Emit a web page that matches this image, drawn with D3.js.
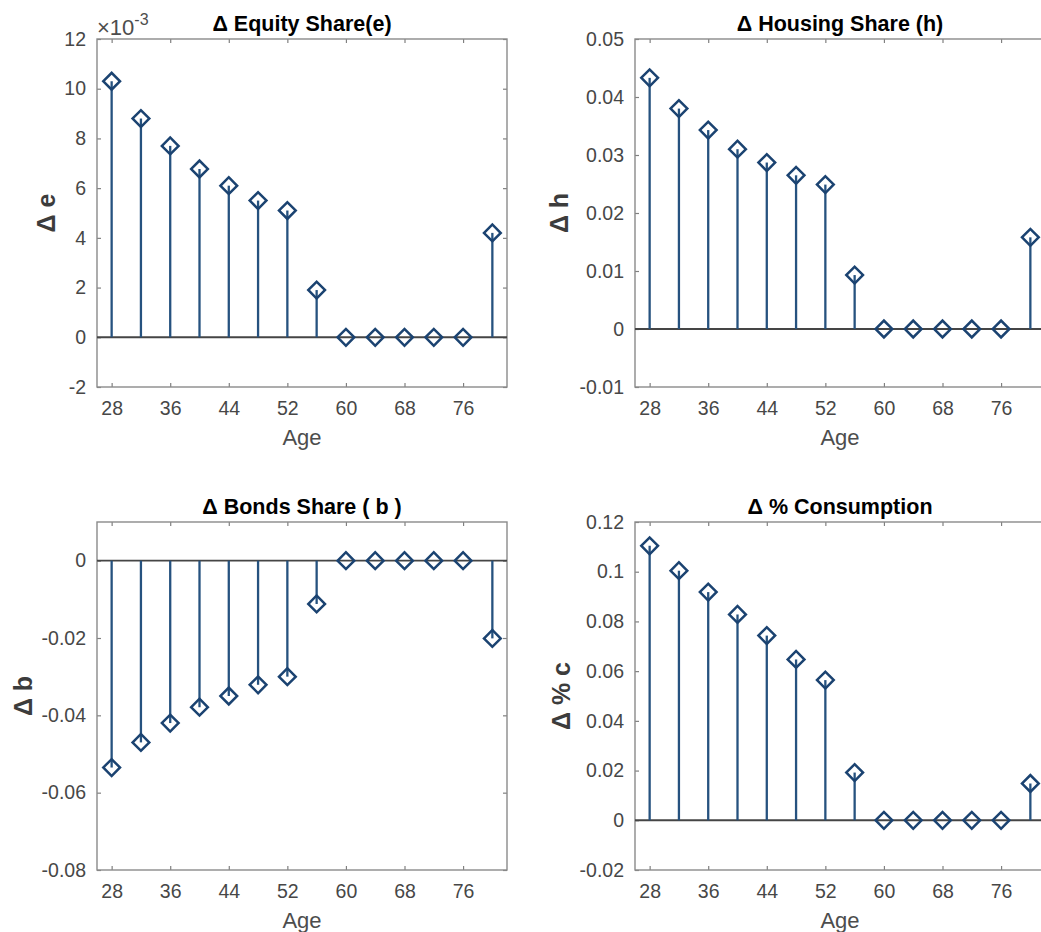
<!DOCTYPE html>
<html lang="en">
<head>
    <meta charset="UTF-8">
    <title>Stem plots by age</title>
    <script src="https://d3js.org/d3.v7.min.js"></script>
    <style>
        body { margin: 0; background: #fff; }
        svg { display: block; font-family: "Liberation Sans", Arial, sans-serif; }
        .tick text { fill: #474747; font-size: 19.5px; }
        .tick line { stroke: #808080; stroke-width: 1.2; }
        .frame { fill: none; stroke: #8a8a8a; stroke-width: 1.4; }
        .zero { stroke: #454545; stroke-width: 1.9; }
        .stem { stroke: #26527f; stroke-width: 2.3; }
        .mark { fill: none; stroke: #1b4371; stroke-width: 2.5; }
        .title { font-size: 21.5px; font-weight: bold; fill: #000; }
        .xlabel { font-size: 22px; fill: #4d4d4d; }
        .ylabel { font-size: 25px; font-weight: bold; fill: #3c3c3c; }
        .expo { fill: #4d4d4d; font-size: 22px; }
        .expo .sup { font-size: 16px; }
    </style>
</head>
<body>
    <svg id="chart" width="1041" height="932"></svg>

    <script>
        // data
        const ages = [28, 32, 36, 40, 44, 48, 52, 56, 60, 64, 68, 72, 76, 80];
        const equityShare = [0.0103, 0.0088, 0.0077, 0.00677, 0.0061, 0.0055, 0.0051, 0.0019, 0, 0, 0, 0, 0, 0.0042];
        const housingShare = [0.0433, 0.0380, 0.0343, 0.0310, 0.0287, 0.0265, 0.0249, 0.0093, 0, 0, 0, 0, 0, 0.0158];
        const bondsShare = [-0.0535, -0.0470, -0.0420, -0.0379, -0.0350, -0.0321, -0.0300, -0.0112, 0, 0, 0, 0, 0, -0.0201];
        const consumption = [0.1104, 0.1004, 0.0918, 0.0828, 0.0743, 0.0647, 0.0564, 0.0192, 0, 0, 0, 0, 0, 0.0148];

        const ageTicks = [28, 36, 44, 52, 60, 68, 76];
        const equityTicks = [-0.002, 0, 0.002, 0.004, 0.006, 0.008, 0.010, 0.012];
        const housingTicks = [-0.01, 0, 0.01, 0.02, 0.03, 0.04, 0.05];
        const bondsTicks = [-0.08, -0.06, -0.04, -0.02, 0];
        const consumptionTicks = [-0.02, 0, 0.02, 0.04, 0.06, 0.08, 0.1, 0.12];

        const panels = [
            {title: "Δ Equity Share(e)", ylab: "Δ e", values: equityShare, ticks: equityTicks,
             domain: [-0.002, 0.012], left: 97, top: 39, ylabOff: 42, scaleExp: true},
            {title: "Δ Housing Share (h)", ylab: "Δ h", values: housingShare, ticks: housingTicks,
             domain: [-0.01, 0.05], left: 635, top: 39, ylabOff: 67},
            {title: "Δ Bonds Share ( b )", ylab: "Δ b", values: bondsShare, ticks: bondsTicks,
             domain: [-0.08, 0.01], left: 97, top: 522, ylabOff: 65},
            {title: "Δ % Consumption", ylab: "Δ % c", values: consumption, ticks: consumptionTicks,
             domain: [-0.02, 0.12], left: 635, top: 522, ylabOff: 65}
        ];

        const width = 410, height = 348;
        const svg = d3.select("#chart");

        const x = d3.scaleLinear().domain([26, 82]).range([0, width]);

        panels.forEach(p => {
            const y = d3.scaleLinear().domain(p.domain).range([height, 0]);
            const fmt = p.scaleExp ? (d => String(Math.round(d * 1000))) : (d => String(+d.toFixed(4)));

            const g = svg.append("g")
                .attr("transform", `translate(${p.left},${p.top})`);

            // axes, ticks pointing inward like matlab
            g.append("g")
                .attr("transform", `translate(0,${height})`)
                .call(d3.axisBottom(x).tickValues(ageTicks).tickSize(-4).tickPadding(14))
                .call(a => a.select(".domain").remove());
            g.append("g")
                .call(d3.axisTop(x).tickValues(ageTicks).tickSize(-4).tickFormat(""))
                .call(a => a.select(".domain").remove());
            g.append("g")
                .call(d3.axisLeft(y).tickValues(p.ticks).tickSize(-4).tickPadding(11).tickFormat(fmt))
                .call(a => a.select(".domain").remove());
            g.append("g")
                .attr("transform", `translate(${width},0)`)
                .call(d3.axisRight(y).tickValues(p.ticks).tickSize(-4).tickFormat(""))
                .call(a => a.select(".domain").remove());

            g.append("rect")
                .attr("class", "frame")
                .attr("width", width)
                .attr("height", height);

            g.append("line")
                .attr("class", "zero")
                .attr("x1", 0).attr("x2", width)
                .attr("y1", y(0)).attr("y2", y(0));

            const pts = ages.map((a, i) => ({age: a, v: p.values[i]}));

            g.selectAll(".stem")
                .data(pts)
                .enter().append("line")
                .attr("class", "stem")
                .attr("x1", d => x(d.age)).attr("x2", d => x(d.age))
                .attr("y1", y(0)).attr("y2", d => y(d.v));

            g.selectAll(".mark")
                .data(pts)
                .enter().append("path")
                .attr("class", "mark")
                .attr("d", d3.symbol(d3.symbolSquare, 140))
                .attr("transform", d => `translate(${x(d.age)},${y(d.v)}) rotate(45)`);

            g.append("text")
                .attr("class", "title")
                .attr("x", width / 2).attr("y", -8)
                .attr("text-anchor", "middle")
                .text(p.title);

            g.append("text")
                .attr("class", "xlabel")
                .attr("x", width / 2).attr("y", height + 58)
                .attr("text-anchor", "middle")
                .text("Age");

            g.append("text")
                .attr("class", "ylabel")
                .attr("transform", `translate(${-p.ylabOff},${height / 2}) rotate(-90)`)
                .attr("text-anchor", "middle")
                .text(p.ylab);

            if (p.scaleExp) {
                const t = g.append("text").attr("class", "expo").attr("x", 0).attr("y", -4);
                t.append("tspan").text("×10");
                t.append("tspan").attr("class", "sup").attr("dy", -10).text("-3");
            }
        });
    </script>
</body>
</html>
